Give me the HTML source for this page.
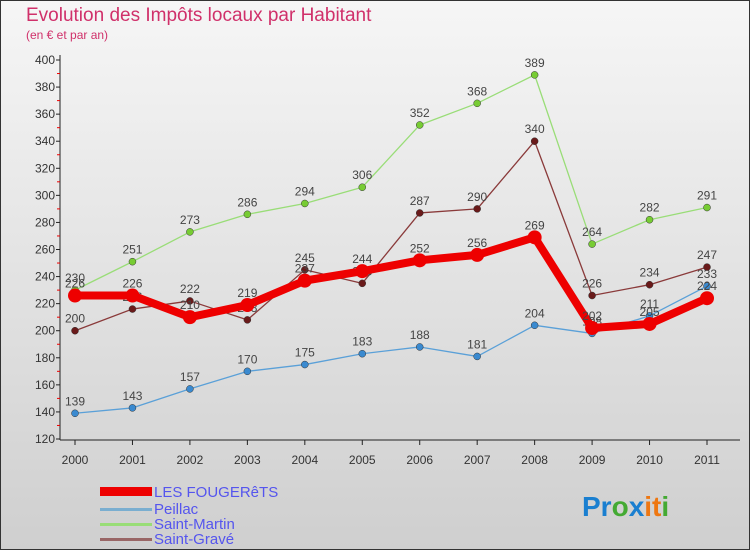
<!DOCTYPE html>
<html><head><meta charset="utf-8"><style>
body{margin:0;width:750px;height:550px;overflow:hidden;font-family:"Liberation Sans",sans-serif}
</style></head><body>
<svg width="750" height="550" xmlns="http://www.w3.org/2000/svg">
<defs><linearGradient id="bg" x1="0" y1="0" x2="0" y2="1"><stop offset="0" stop-color="#f6f6f6"/><stop offset="1" stop-color="#cfcfcf"/></linearGradient></defs>
<rect x="0.5" y="0.5" width="749" height="549" fill="url(#bg)" stroke="#333"/>
<text x="26" y="21" font-size="19" fill="#d0306a">Evolution des Impôts locaux par Habitant</text>
<text x="26" y="39" font-size="12" fill="#d0306a">(en € et par an)</text>
<g id="axes"></g><g id="series"></g>
<g font-size="15" fill="#5555ee">
<rect x="100" y="487" width="52" height="9" fill="#ee0000"/>
<text x="154" y="497">LES FOUGERêTS</text>
<rect x="100" y="508" width="52" height="3" fill="#7aaed0"/>
<text x="154" y="514">Peillac</text>
<rect x="100" y="523" width="52" height="3" fill="#99dd77"/>
<text x="154" y="529">Saint-Martin</text>
<rect x="100" y="538" width="52" height="3" fill="#996666"/>
<text x="154" y="544">Saint-Gravé</text>
</g>
<text x="582" y="516" font-size="28" font-weight="bold"><tspan fill="#1a7fd0">Pr</tspan><tspan fill="#44aa33">o</tspan><tspan fill="#1a7fd0">x</tspan><tspan fill="#ee7711">it</tspan><tspan fill="#44aa33">i</tspan></text>
</svg>
<script>
const years=["2000","2001","2002","2003","2004","2005","2006","2007","2008","2009","2010","2011"];
const yTicks=[120,140,160,180,200,220,240,260,280,300,320,340,360,380,400];
const fougerets=[226,226,210,219,237,244,252,256,269,202,205,224];
const peillac=[139,143,157,170,175,183,188,181,204,198,211,233];
const saintMartin=[230,251,273,286,294,306,352,368,389,264,282,291];
const saintGrave=[200,216,222,208,245,235,287,290,340,226,234,247];
const NS="http://www.w3.org/2000/svg";
const xs=i=>75+i*(632/11);
const ys=v=>439-(v-120)*(379/280);
function mk(tag,attrs,parent){const e=document.createElementNS(NS,tag);for(const k in attrs)e.setAttribute(k,attrs[k]);parent.appendChild(e);return e;}
const ax=document.getElementById('axes');
const yaxis=mk('line',{x1:60,y1:55,x2:60,y2:440,stroke:'#222','stroke-width':1},ax);


const xaxis=mk('line',{x1:60,y1:440,x2:740,y2:440,stroke:'#222','stroke-width':1},ax);


yTicks.forEach((t,i)=>{const y=ys(t);
 mk('line',{x1:56,y1:y,x2:60,y2:y,stroke:'#222'},ax);
 if(i<yTicks.length-1) mk('line',{x1:57,y1:ys(t+10),x2:60,y2:ys(t+10),stroke:'#e00'},ax);
 const tx=mk('text',{x:55,y:y+4,'font-size':12,'text-anchor':'end',fill:'#333'},ax);tx.textContent=t;
 
 });
years.forEach((yr,i)=>{const x=xs(i);
 mk('line',{x1:x,y1:440,x2:x,y2:445,stroke:'#222'},ax);
 const tx=mk('text',{x:x,y:464,'font-size':12,'text-anchor':'middle',fill:'#333'},ax);tx.textContent=yr;
 
 });
const sg=document.getElementById('series');
function series(data,name,line,dot,w,r){
 const g=mk('g',{},sg);
 
 
 mk('polyline',{points:data.map((v,i)=>xs(i)+','+ys(v)).join(' '),fill:'none',stroke:line,'stroke-width':w,'stroke-linejoin':'round'},g);
 data.forEach((v,i)=>{
  const c=mk('circle',{cx:xs(i),cy:ys(v),r:r,fill:dot,stroke:w>3?'none':'#333','stroke-width':0.5},g);
  
  
  const t=mk('text',{x:xs(i),y:ys(v)-8,'font-size':12,'text-anchor':'middle',fill:'#444'},g);t.textContent=v;
  
  
 });
}
series(saintMartin,'saint-martin','#99dd77','#77cc33',1.3,3.5);
series(peillac,'peillac','#5aa0d8','#3a8ad0',1.3,3.5);
series(saintGrave,'saint-grave','#8a3a3a','#6a1a1a',1.3,3.5);
series(fougerets,'fougerets','#ee0000','#ee0000',8,7);
</script>
</body></html>
